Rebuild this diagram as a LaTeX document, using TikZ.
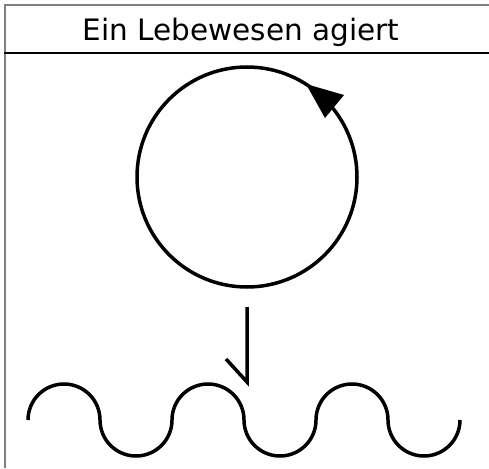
\documentclass[tikz,border=0pt]{standalone}
\usepackage{fontspec}
\setmainfont{DejaVu Sans}
\begin{document}
\begin{tikzpicture}[x=1pt,y=-1pt,
  frame/.style={draw=gray,line width=2pt},
  thick line/.style={draw=black,line width=3.5pt},
  wavearc/.style={draw=black,line width=3.5pt}]
\useasboundingbox (0,0) rectangle (489,468);
% frame
\draw[frame] (5,468) -- (5,5) -- (489,5);
\draw[black,line width=1.5pt] (4,53) -- (489,53);
\node[anchor=base,inner sep=0pt,font=\fontsize{29.5}{34}\selectfont] (title) at (241,41) {Ein Lebewesen agiert};
% circle with arrow
\node[circle,draw,line width=3.5pt,minimum size=220pt,inner sep=0pt] (cyc) at (247,177) {};
\fill[black] (306,84) -- (344,95) -- (325,118) -- cycle;
% harpoon down
\coordinate (h1) at (247,307);
\coordinate (h2) at (247,382);
\coordinate (h3) at (226,359);
\draw[thick line] (h1) -- (h2) -- (h3);
% wave
\foreach \i in {0,2,4} {
  \draw[wavearc] ({28+72*\i},420) arc[start angle=180,end angle=360,radius=36];
}
\foreach \i in {1,3,5} {
  \draw[wavearc] ({28+72*\i},420) arc[start angle=180,end angle=0,radius=36];
}
\end{tikzpicture}
\end{document}
